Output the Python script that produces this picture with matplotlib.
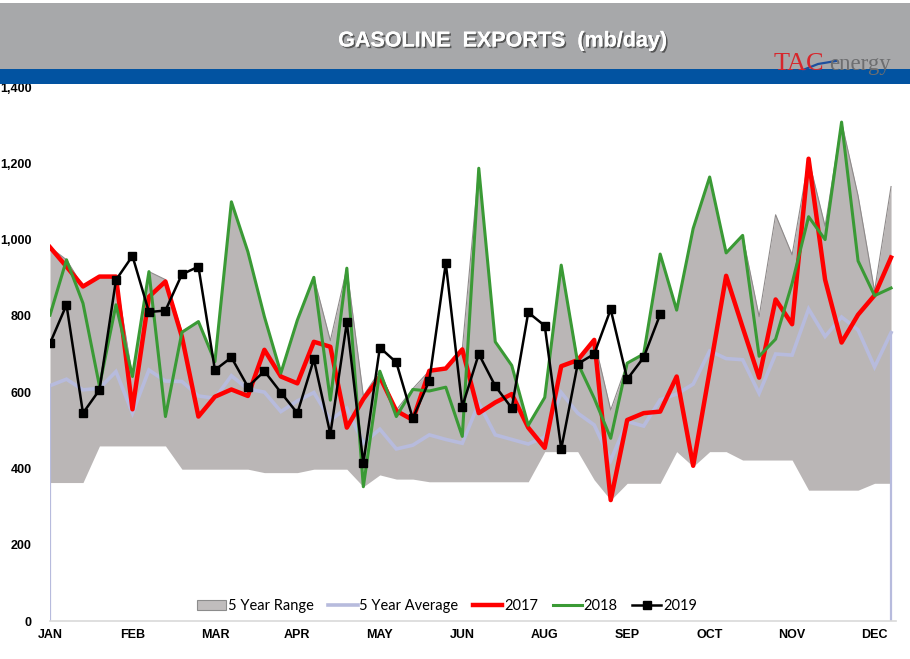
import numpy as np
import matplotlib
matplotlib.use("Agg")
import matplotlib.pyplot as plt
from matplotlib.patches import Patch, Rectangle
from matplotlib.lines import Line2D
import matplotlib.patheffects as pe
from matplotlib import font_manager as fm

avail = {f.name for f in fm.fontManager.ttflist}
def pick(*names):
    for n in names:
        if n in avail:
            return n
    return "DejaVu Sans"

SANS = pick("Liberation Sans", "Arial", "DejaVu Sans")
LEG = pick("Lato", "Open Sans", "DejaVu Sans")
SERIF = pick("Liberation Serif", "DejaVu Serif")

# ---------------- data (mb/day, weekly) ----------------
month_labels = ["JAN", "FEB", "MAR", "APR", "MAY", "JUN", "AUG", "SEP", "OCT", "NOV", "DEC"]
month_weeks = [0, 5, 10, 15, 20, 25, 30, 35, 40, 45, 50]

range_high = [980, 947, 877, 903, 903, 641, 916, 895, 759, 785, 676, 1099, 968,
              798, 650, 789, 901, 735, 925, 590, 656, 553, 609, 656, 662, 712,
              1187, 732, 670, 515, 586, 933, 684, 737, 553, 676, 700, 962, 815,
              1029, 1164, 965, 1011, 798, 1065, 960, 1211, 1035, 1308, 1115, 865, 1139]
range_low = [363, 363, 363, 459, 459, 459, 459, 459, 398, 398, 398, 398, 398,
             389, 389, 389, 398, 398, 398, 352, 383, 372, 372, 365, 365, 365,
             365, 365, 365, 365, 444, 444, 444, 370, 317, 361, 361, 361, 444,
             405, 444, 444, 422, 422, 422, 422, 343, 343, 343, 343, 361, 361]
avg5 = [617, 634, 606, 610, 654, 545, 658, 629, 628, 590, 584, 643, 608,
        600, 549, 577, 599, 527, 558, 466, 503, 451, 461, 488, 476, 466,
        571, 488, 476, 464, 482, 599, 545, 514, 421, 523, 511, 580, 595,
        621, 708, 688, 685, 597, 700, 697, 818, 746, 797, 763, 666, 756]
y2017 = [980, 929, 877, 903, 903, 555, 850, 890, 745, 536, 588, 607, 590,
         711, 641, 623, 732, 719, 507, 582, 640, 551, 527, 656, 662, 712,
         545, 573, 595, 507, 454, 668, 684, 737, 317, 527, 545, 549, 641,
         407, 655, 905, 770, 638, 843, 778, 1212, 895, 730, 803, 854, 953]
y2018 = [802, 947, 833, 616, 829, 641, 916, 536, 757, 785, 680, 1099, 968,
         798, 650, 789, 901, 579, 925, 352, 655, 536, 607, 603, 613, 484,
         1187, 732, 670, 513, 586, 933, 676, 584, 479, 676, 700, 962, 815,
         1029, 1164, 965, 1011, 694, 739, 885, 1060, 1000, 1308, 944, 853, 873]
y2019 = [728, 829, 545, 606, 894, 957, 810, 814, 909, 929, 658, 691, 614,
         655, 599, 545, 686, 490, 783, 413, 717, 678, 531, 630, 938, 562,
         700, 616, 558, 809, 774, 451, 674, 700, 817, 634, 691, 804]
y_ticks = [0, 200, 400, 600, 800, 1000, 1200, 1400]

W, H = 910, 659
fig = plt.figure(figsize=(W / 100, H / 100), dpi=100)
fig.patch.set_facecolor("white")

# header bands
fig.patches.append(Rectangle((0, 1 - 69 / H), 1, 66 / H, transform=fig.transFigure,
                             facecolor="#a7a8aa", edgecolor="none", zorder=0))
fig.patches.append(Rectangle((0, 1 - 84 / H), 1, 15 / H, transform=fig.transFigure,
                             facecolor="#0253a1", edgecolor="none", zorder=0))
fig.text(502 / W, 1 - 41 / H, "GASOLINE  EXPORTS  (mb/day)", color="white",
         fontsize=15.5, fontweight="bold", family=SANS, ha="center", va="center",
         path_effects=[pe.withSimplePatchShadow(offset=(1.2, -1.2), shadow_rgbFace="#333333", alpha=0.7),
                       pe.Normal()])
# logo
fig.text(774 / W, 1 - 70 / H, "TAC", color="#d7262c", fontsize=19, family=SERIF,
         ha="left", va="baseline")
fig.text(829 / W, 1 - 70 / H, "energy", color="#6d6e70", fontsize=16.5, family=SERIF,
         ha="left", va="baseline")
fig.lines.append(Line2D([803 / W, 818 / W, 836 / W], [1 - 70 / H, 1 - 64 / H, 1 - 61 / H],
                        transform=fig.transFigure, color="#1d4f9e", lw=1.6))

# main axes
ax = fig.add_axes([50 / W, 1 - 621 / H, 846 / W, (621 - 87) / H])
ax.set_xlim(0, 51.3)
ax.set_ylim(0, 1400)
weeks = np.arange(len(range_high))

ax.fill_between(weeks, range_low, range_high, color="#bab6b6", lw=0, zorder=1)
ax.plot(weeks, range_high, color="#8e8a8a", lw=0.8, zorder=1.2)
ax.plot(weeks, avg5, color="#b7bbdd", lw=2.6, zorder=2, solid_joinstyle="miter")
ax.vlines([weeks[0], weeks[-1]], 0, [avg5[0], avg5[-1]], color="#b7bbdd", lw=1.6, zorder=2)
ax.plot(weeks, y2017, color="#ff0000", lw=3.2, zorder=3)
ax.plot(weeks, y2018, color="#3a9a35", lw=2.2, zorder=4)
ax.plot(np.arange(len(y2019)), y2019, color="black", lw=1.8, marker="s", ms=6,
        zorder=5)

for s in ["top", "right", "left"]:
    ax.spines[s].set_visible(False)
ax.spines["bottom"].set_color("#d9d9d9")
ax.spines["bottom"].set_linewidth(1.2)

ax.set_yticks(y_ticks)
ax.set_yticklabels([f"{v:,}" for v in y_ticks], fontsize=9, fontweight="bold", family=SANS)
ax.set_xticks(month_weeks)
ax.set_xticklabels(month_labels, fontsize=9, fontweight="bold", family=SANS)
ax.tick_params(axis="y", length=0, pad=13)
ax.tick_params(axis="x", length=0, pad=6)

handles = [Patch(facecolor="#c0bdbd", edgecolor="#8c8c8c", lw=0.8),
           Line2D([], [], color="#b7bbdd", lw=2.6),
           Line2D([], [], color="#ff0000", lw=3.2),
           Line2D([], [], color="#3a9a35", lw=2.2),
           Line2D([], [], color="black", lw=1.8, marker="s", ms=6)]
labels = ["5 Year Range", "5 Year Average", "2017", "2018", "2019"]
fig.legend(handles, labels, loc="center", bbox_to_anchor=(447 / W, 1 - 606 / H),
           ncol=5, frameon=False, prop={"family": LEG, "size": 10.5},
           handlelength=2.0, handletextpad=0.12, columnspacing=1.0)

fig.savefig("out.png", dpi=100)
